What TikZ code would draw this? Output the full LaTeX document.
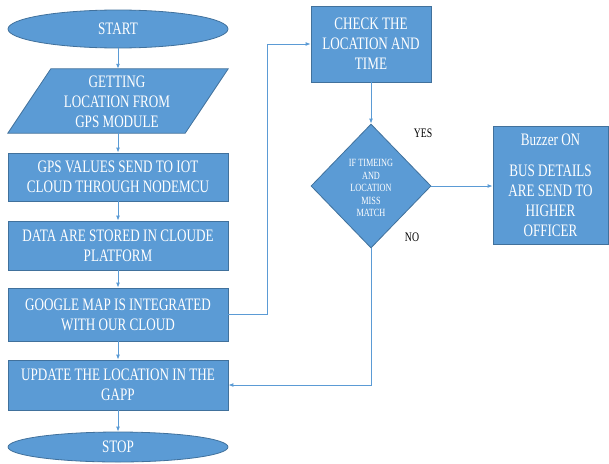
\documentclass[tikz,border=0pt]{standalone}
\usepackage{fontspec}
\setmainfont{Liberation Serif}[FakeStretch=0.75]
\usetikzlibrary{shapes.geometric,arrows.meta}
\definecolor{boxfill}{HTML}{5B9BD5}
\definecolor{boxline}{HTML}{41719C}
\definecolor{linecol}{HTML}{5B9BD5}
\tikzset{
  proc/.style={rectangle, draw=boxline, fill=boxfill, line width=0.8pt, text=white, align=center, inner sep=0pt, minimum width=220pt, font=\fontsize{17.5}{20}\selectfont},
  term/.style={ellipse, draw=boxline, fill=boxfill, line width=0.8pt, text=white, align=center, inner sep=0pt, minimum width=220pt, font=\fontsize{17.5}{20}\selectfont},
  conn/.style={draw=linecol, line width=0.9pt, -{Latex[length=5pt,width=4pt]}},
  lbl/.style={text=black, font=\fontsize{13}{14}\selectfont, inner sep=0pt}
}
\begin{document}
\begin{tikzpicture}[x=1pt,y=-1pt]
\useasboundingbox (0,0) rectangle (609,463);
\node[term, minimum height=38pt] (start) at (118,29) {START};
\node[rectangle, minimum width=220pt, minimum height=64pt, inner sep=0pt] (get) at (118,101) {};
\draw[draw=boxline, fill=boxfill, line width=0.8pt] (get.south west) -- ([xshift=43pt]get.north west) -- (get.north east) -- ([xshift=-43pt]get.south east) -- cycle;
\node[text=white, align=center, font=\fontsize{17.5}{20}\selectfont] (gettxt) at (117,102) {GETTING\\LOCATION  FROM\\GPS MODULE};
\node[proc, minimum height=48pt] (gps) at (118,177) {GPS VALUES SEND TO IOT\\CLOUD THROUGH  NODEMCU};
\node[proc, minimum height=49pt] (data) at (118,245.5) {DATA  ARE STORED IN CLOUDE\\PLATFORM};
\node[proc, minimum height=53pt] (google) at (118,314.5) {GOOGLE  MAP IS INTEGRATED\\WITH OUR CLOUD};
\node[proc, minimum height=50pt] (update) at (118,385) {UPDATE  THE LOCATION  IN THE\\GAPP};
\node[term, minimum height=30pt] (stop) at (118,447) {STOP};
\node[proc, minimum width=120pt, minimum height=76pt] (check) at (371,44) {CHECK THE\\LOCATION  AND\\TIME};
\node[diamond, draw=boxline, fill=boxfill, line width=0.8pt, inner sep=0pt, minimum width=120pt, minimum height=124pt] (dec) at (371,186) {};
\node[text=white, align=center, font=\fontsize{11}{12.5}\selectfont, inner sep=0pt] (dectxt) at (371,188) {IF TIMEING\\AND\\LOCATION\\MISS\\MATCH};
\node[proc, minimum width=115pt, minimum height=118pt] (out) at (550.5,185) {Buzzer  ON\\[11pt]BUS DETAILS\\ARE SEND TO\\HIGHER\\OFFICER};
\node[lbl] (yes) at (423,133) {YES};
\node[lbl] (no) at (412,237) {NO};
\draw[conn] (start) -- (get);
\draw[conn] (get) -- (gps);
\draw[conn] (gps) -- (data);
\draw[conn] (data) -- (google);
\draw[conn] (google) -- (update);
\draw[conn] (update) -- (stop);
\draw[conn] (google.east) -| ([xshift=-43pt]check.west) -- (check.west);
\draw[conn] (check) -- (dec);
\draw[conn] (dec.east) -- (dec.east -| out.west);
\draw[conn] (dec.south) |- (update.east);
\end{tikzpicture}
\end{document}
